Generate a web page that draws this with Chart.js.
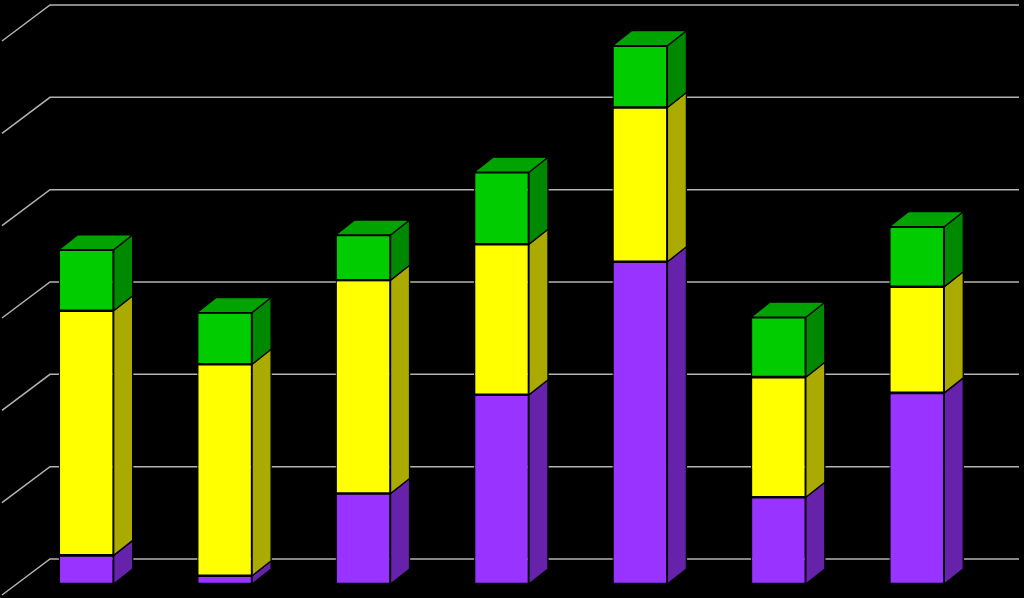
<!DOCTYPE html>
<html>
<head>
<meta charset="utf-8">
<script src="https://cdn.jsdelivr.net/npm/chart.js@4/dist/chart.umd.min.js"></script>
<style>
  html, body { margin: 0; padding: 0; background: #000; }
  canvas { display: block; }
</style>
</head>
<body>
<canvas id="chart" width="1024" height="598"></canvas>
<script>
const categories = ["1", "2", "3", "4", "5", "6", "7"];
const purpleValues = [3.1, 0.9, 9.8, 20.5, 34.9, 9.4, 20.7];
const yellowValues = [26.5, 22.9, 23.1, 16.3, 16.7, 13.0, 11.5];
const greenValues = [6.6, 5.6, 4.9, 7.8, 6.7, 6.5, 6.5];
const yTicks = [0, 10, 20, 30, 40, 50, 60];

// colours: front, side, top
const shades = [
  { front: "#9933ff", side: "#6622aa", top: "#7a29cc" },
  { front: "#ffff00", side: "#aaaa00", top: "#cccc00" },
  { front: "#00cc00", side: "#008800", top: "#00a300" }
];

const DX = 19, DY = 15;      // bar depth
const WALL_X = 33, WALL_Y = 25; // back wall offset from front plane
const FLOOR_X = 48, FLOOR_Y = 36;

const gridPlugin = {
  id: "grid3d",
  beforeDatasetsDraw(chart) {
    const ctx = chart.ctx;
    const area = chart.chartArea;
    const y = chart.scales.y;
    ctx.save();
    ctx.strokeStyle = "#b4b4b4";
    ctx.lineWidth = 1.5;
    yTicks.forEach(v => {
      const yb = y.getPixelForValue(v) - WALL_Y;
      const xb = area.left + WALL_X;
      ctx.beginPath();
      ctx.moveTo(xb - FLOOR_X, yb + FLOOR_Y);
      ctx.lineTo(xb, yb);
      ctx.lineTo(area.right + WALL_X, yb);
      ctx.stroke();
    });
    ctx.restore();
  }
};

const facesPlugin = {
  id: "faces3d",
  afterDatasetsDraw(chart) {
    const ctx = chart.ctx;
    ctx.save();
    ctx.strokeStyle = "#000";
    ctx.lineWidth = 1.3;
    ctx.lineJoin = "round";
    const last = chart.data.datasets.length - 1;
    chart.data.datasets.forEach((ds, di) => {
      const meta = chart.getDatasetMeta(di);
      meta.data.forEach(bar => {
        const p = bar.getProps(["x", "y", "base", "width"], true);
        const left = p.x - p.width / 2, right = p.x + p.width / 2;
        const top = Math.min(p.y, p.base), bottom = Math.max(p.y, p.base);
        ctx.fillStyle = shades[di].side;
        ctx.beginPath();
        ctx.moveTo(right, top);
        ctx.lineTo(right + DX, top - DY);
        ctx.lineTo(right + DX, bottom - DY);
        ctx.lineTo(right, bottom);
        ctx.closePath();
        ctx.fill();
        ctx.stroke();
        if (di === last) {
          ctx.fillStyle = shades[di].top;
          ctx.beginPath();
          ctx.moveTo(left, top);
          ctx.lineTo(left + DX, top - DY);
          ctx.lineTo(right + DX, top - DY);
          ctx.lineTo(right, top);
          ctx.closePath();
          ctx.fill();
          ctx.stroke();
        }
      });
    });
    ctx.restore();
  }
};

const makeSet = (data, i) => ({
  data: data,
  backgroundColor: shades[i].front,
  borderColor: "#000",
  borderWidth: 1.3,
  borderSkipped: false,
  barPercentage: 1,
  categoryPercentage: 0.397
});

new Chart(document.getElementById("chart"), {
  type: "bar",
  data: {
    labels: categories,
    datasets: [makeSet(purpleValues, 0), makeSet(yellowValues, 1), makeSet(greenValues, 2)]
  },
  options: {
    responsive: false,
    animation: false,
    layout: { padding: { left: 17, right: 38, top: 30, bottom: 14 } },
    plugins: { legend: { display: false }, tooltip: { enabled: false } },
    scales: {
      x: { stacked: true, display: false },
      y: { stacked: true, display: false, min: 0, max: 60 }
    }
  },
  plugins: [gridPlugin, facesPlugin]
});
</script>
</body>
</html>
